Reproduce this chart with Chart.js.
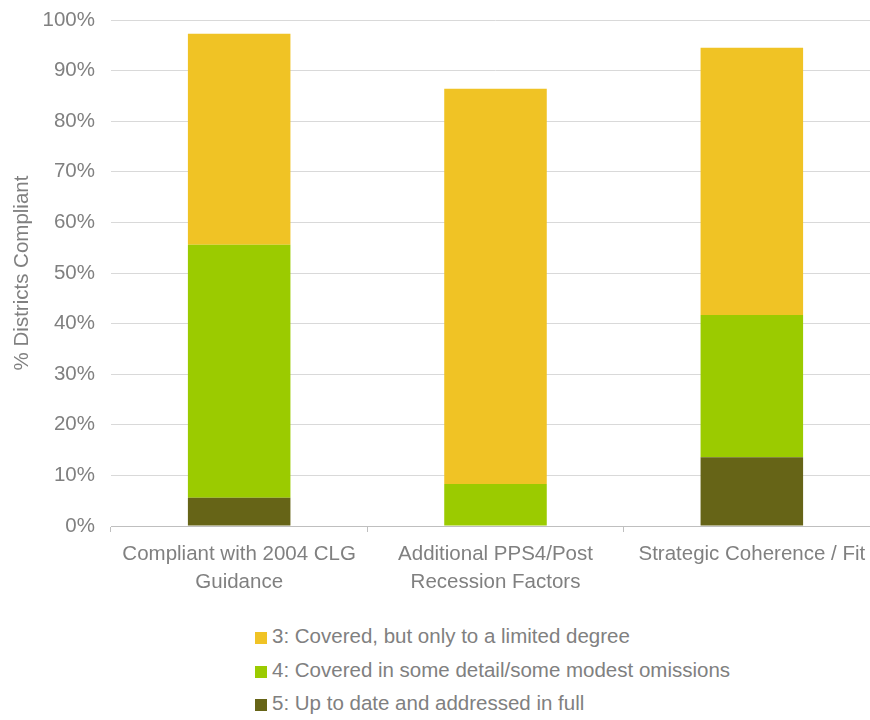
<!DOCTYPE html>
<html>
<head>
<meta charset="utf-8">
<script src="https://cdn.jsdelivr.net/npm/chart.js@4/dist/chart.umd.min.js"></script>
<style>
  html, body { margin: 0; padding: 0; background: #fff; overflow: hidden; }
  #wrap { position: relative; width: 880px; height: 720px; }
  #chartBox { position: absolute; left: 0; top: 0; width: 880px; height: 600px; }
  #legend { position: absolute; left: 255px; top: 623px; font-family: "Liberation Sans", Arial, sans-serif; font-size: 20.5px; color: #808080; }
  .item { height: 33.5px; line-height: 26px; white-space: nowrap; }
  .sw { display: inline-block; width: 12px; height: 12px; margin-right: 5px; vertical-align: -1px; }
</style>
</head>
<body>
<div id="wrap">
  <div id="chartBox"><canvas id="chart"></canvas></div>
  <div id="legend"></div>
</div>
<script>
// Chart data
const categories = [
  ['Compliant with 2004 CLG', 'Guidance'],
  ['Additional PPS4/Post', 'Recession Factors'],
  'Strategic Coherence / Fit'
];
const level5 = [5.6, 0, 13.6];
const level4 = [50.0, 8.3, 28.1];
const level3 = [41.7, 78.1, 52.8];
const yTicks = [0, 10, 20, 30, 40, 50, 60, 70, 80, 90, 100];

const seriesNames = [
  '3: Covered, but only to a limited degree',
  '4: Covered in some detail/some modest omissions',
  '5: Up to date and addressed in full'
];
const colors = { l3: '#F0C325', l4: '#9BCB00', l5: '#666417' };

document.addEventListener('DOMContentLoaded', () => {
  buildChart();
  buildLegend();
});

function buildChart() {
  const font = { family: '"Liberation Sans", Arial, sans-serif', size: 20.5, lineHeight: 1.37 };
  const grey = '#808080';

  new Chart(document.getElementById('chart'), {
    type: 'bar',
    data: {
      labels: categories,
      datasets: [
        { label: seriesNames[2], data: level5, backgroundColor: colors.l5 },
        { label: seriesNames[1], data: level4, backgroundColor: colors.l4 },
        { label: seriesNames[0], data: level3, backgroundColor: colors.l3 }
      ]
    },
    options: {
      responsive: true,
      maintainAspectRatio: false,
      animation: false,
      datasets: { bar: { barPercentage: 0.4, categoryPercentage: 1 } },
      layout: { padding: { top: 20, right: 0, bottom: 0, left: 0 } },
      plugins: { legend: { display: false }, tooltip: { enabled: false } },
      scales: {
        x: {
          stacked: true,
          grid: { offset: true, drawOnChartArea: false, color: '#bfbfbf', tickLength: 6 },
          border: { color: '#bfbfbf' },
          ticks: { color: grey, font: font, padding: 8, maxRotation: 0, autoSkip: false },
          afterFit: scale => { scale.height = 74; }
        },
        y: {
          stacked: true,
          min: 0,
          max: 100,
          afterBuildTicks: scale => { scale.ticks = yTicks.map(v => ({ value: v })); },
          grid: { color: '#d9d9d9', drawTicks: false },
          border: { display: false },
          ticks: { color: grey, font: Object.assign({}, font, { lineHeight: 1.2 }), padding: 16, callback: v => v + '%' },
          title: { display: true, text: '% Districts Compliant', color: grey, font: Object.assign({}, font, { lineHeight: 1.2 }), padding: { top: 10, bottom: 0 } },
          afterFit: scale => {
            scale.width = 111;
            scale.paddingTop = 0;
            scale.paddingBottom = 0;
          }
        }
      }
    }
  });
}

function buildLegend() {
  const legend = document.getElementById('legend');
  const items = [
    [seriesNames[0], colors.l3],
    [seriesNames[1], colors.l4],
    [seriesNames[2], colors.l5]
  ];
  items.forEach(([name, color]) => {
    const row = document.createElement('div');
    row.className = 'item';
    row.innerHTML = '<span class="sw" style="background:' + color + '"></span>' + name;
    legend.appendChild(row);
  });
}
</script>
</body>
</html>
